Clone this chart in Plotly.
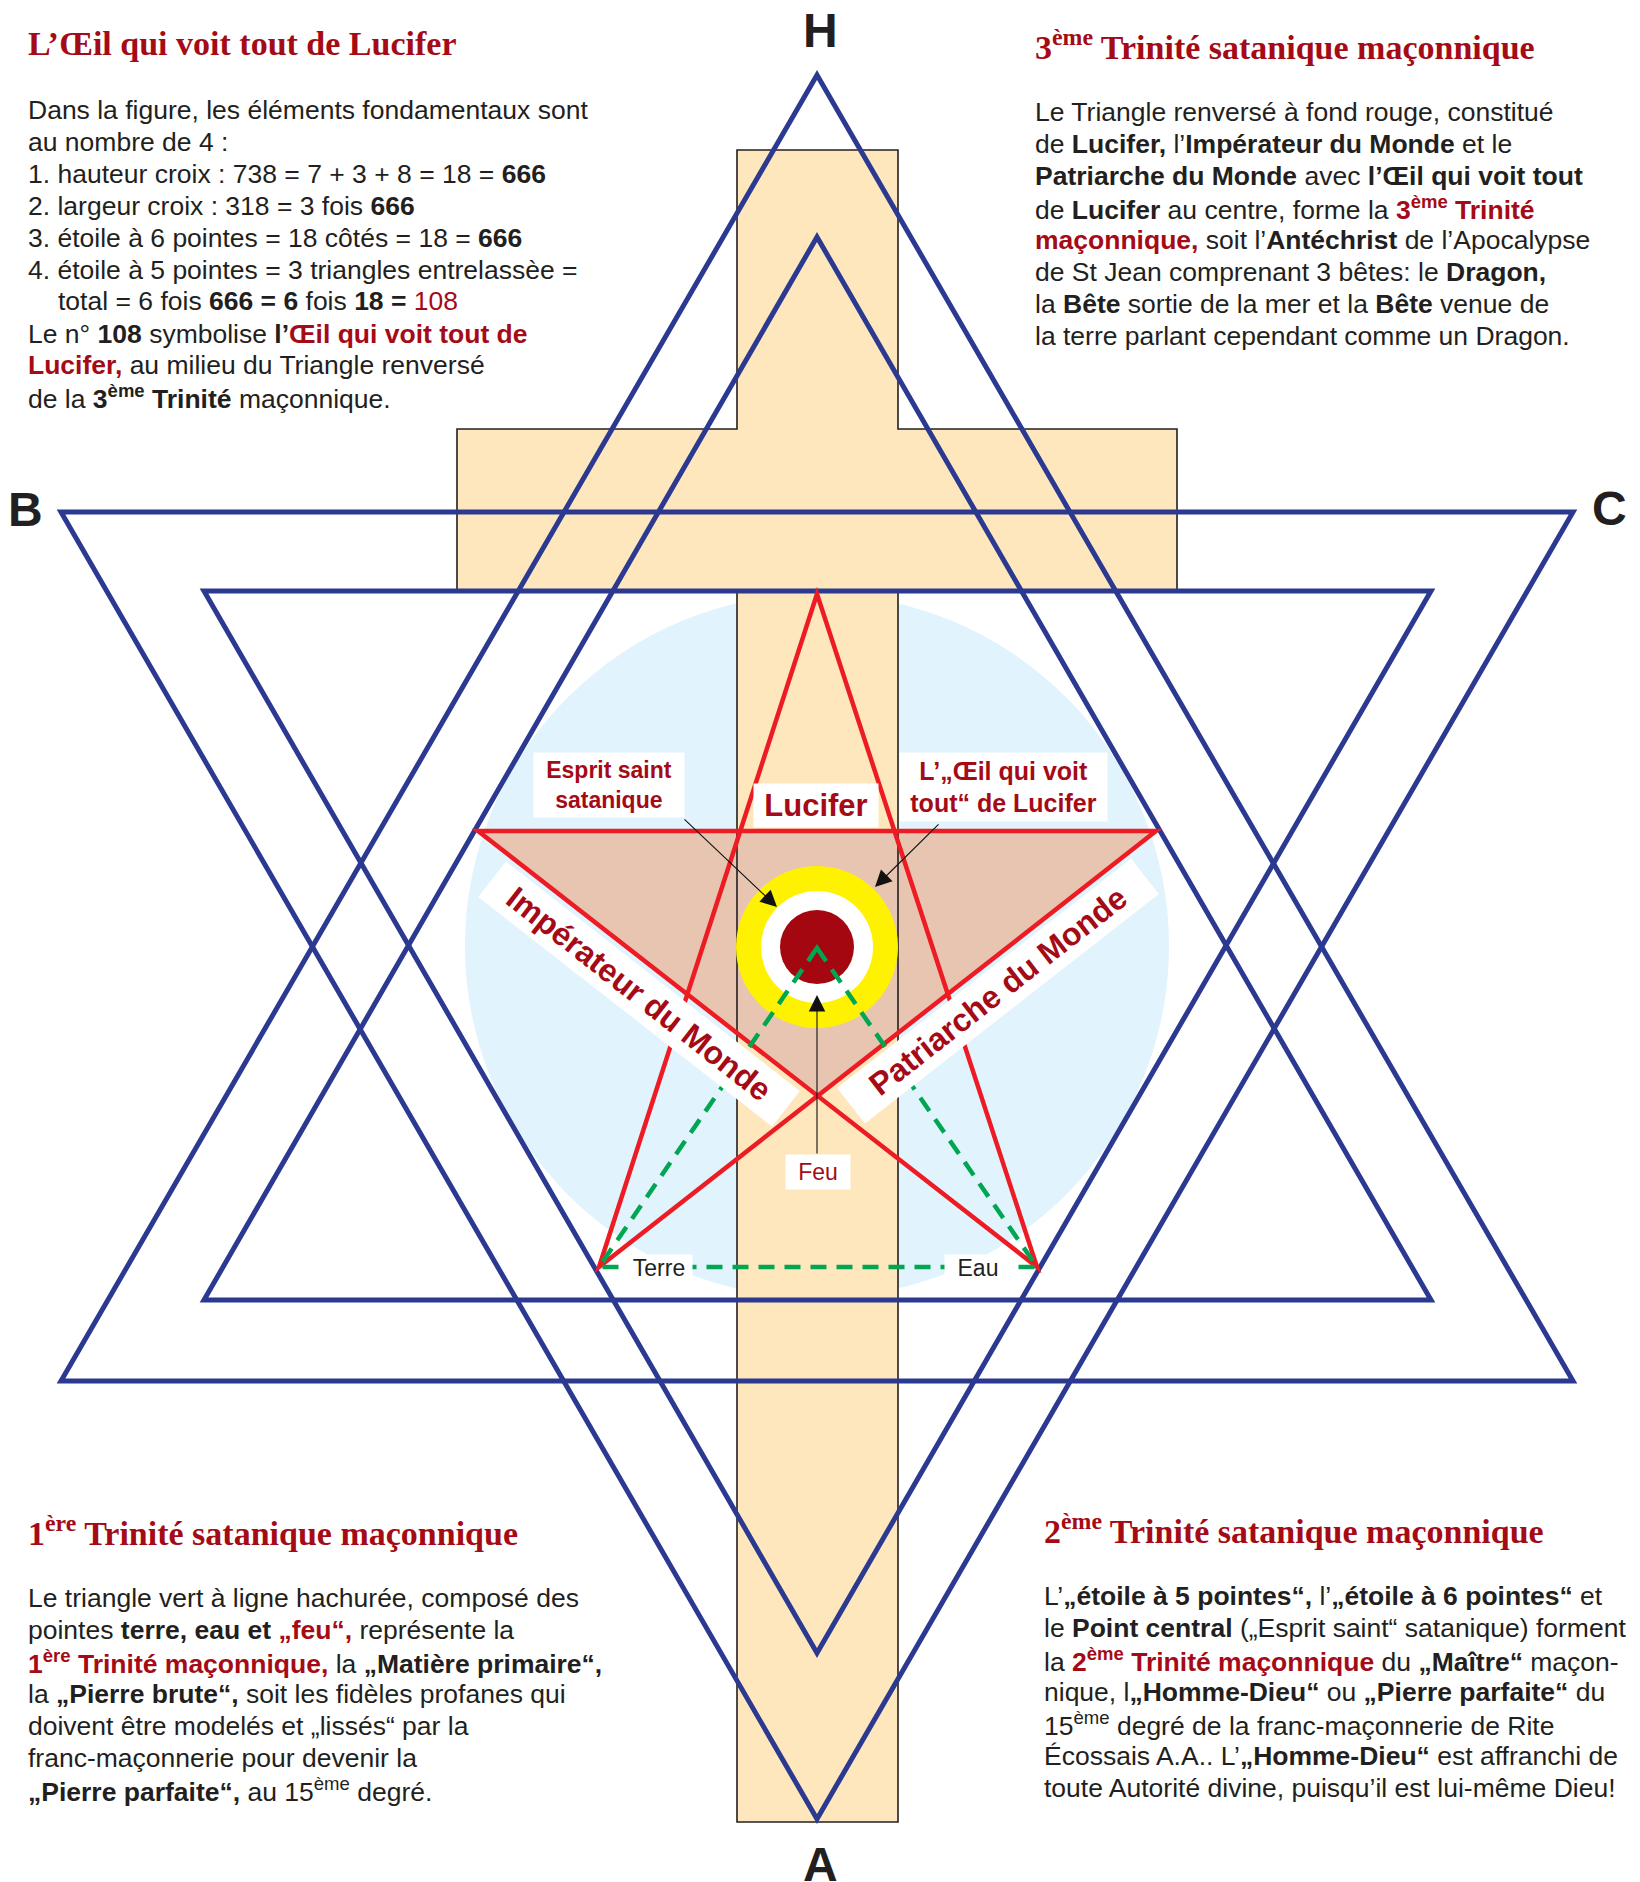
import plotly.graph_objects as go

W, H = 1640, 1882

# ---------------- geometry data (diagram units = pixels) ----------------
outer_up_x = [817, 1573, 61]
outer_up_y = [75, 1381, 1381]
outer_down_x = [61, 1573, 817]
outer_down_y = [512, 512, 1819]
inner_up_x = [817, 1431, 204]
inner_up_y = [237, 1300, 1300]
inner_down_x = [204, 1431, 817]
inner_down_y = [591, 591, 1653]

cross_x = [737, 898, 898, 1177, 1177, 898, 898, 737, 737, 457, 457, 737]
cross_y = [150, 150, 429, 429, 590, 590, 1822, 1822, 590, 590, 429, 429]

# pentagram in drawing order: top, bottom-left, right, left, bottom-right
penta_x = [817, 599, 1156, 478, 1037]
penta_y = [594, 1267, 831, 831, 1267]
red_tri_x = [478, 1156, 817]
red_tri_y = [831, 831, 1095]
green_tri_x = [817, 1037, 599]
green_tri_y = [948, 1267, 1267]

halo_cx, halo_cy, halo_r = 817, 946, 352
eye_cx, eye_cy = 817, 947
eye_r = [81, 56, 37]

# arrows: (tip x, tip y, tail x, tail y)
arrows = [(777, 907, 683, 818), (875, 887, 940, 823), (817, 995, 817, 1155)]

# ---------------- colours ----------------
NAVY = "#2B3990"
RED = "#ED1C24"
GREEN = "#00A651"
CREAM = "#FEE7BC"
SKY = "#E1F3FC"
PINK = "#E8C5B1"
YELLOW = "#FFF200"
EYE = "#A4070F"
TR = "#A50B16"
TXT = "#231F20"
SANS = "Liberation Sans, Arial, sans-serif"
SERIF = "Liberation Serif, Times New Roman, serif"

# ---------------- texts ----------------
tl_head = "L’Œil qui voit tout de Lucifer"
tl_lines = [
    "Dans la figure, les éléments fondamentaux sont",
    "au nombre de 4 :",
    "1. hauteur croix : 738 = 7 + 3 + 8 = 18 = <b>666</b>",
    "2. largeur croix : 318 = 3 fois <b>666</b>",
    "3. étoile à 6 pointes = 18 côtés = 18 = <b>666</b>",
    "4. étoile à 5 pointes = 3 triangles entrelassèe =",
    "total = 6 fois <b>666 = 6</b> fois <b>18 = </b>[r]108[/r]",
    "Le n° <b>108</b> symbolise <b>l’[r]Œil qui voit tout de[/r]</b>",
    "<b>[r]Lucifer,[/r]</b> au milieu du Triangle renversé",
    "de la <b>3<sup>ème</sup> Trinité</b> maçonnique.",
]
tl_y = [110, 142, 174, 206, 238, 270, 301, 334, 365, 397]
tl_x = [26, 26, 26, 26, 26, 26, 56, 26, 26, 26]

tr_head = "3<sup>ème</sup> Trinité satanique maçonnique"
tr_lines = [
    "Le Triangle renversé à fond rouge, constitué",
    "de <b>Lucifer,</b> l’<b>Impérateur du Monde</b> et le",
    "<b>Patriarche du Monde</b> avec <b>l’Œil qui voit tout</b>",
    "de <b>Lucifer</b> au centre, forme la <b>[r]3<sup>ème</sup> Trinité[/r]</b>",
    "<b>[r]maçonnique,[/r]</b> soit l’<b>Antéchrist</b> de l’Apocalypse",
    "de St Jean comprenant 3 bêtes: le <b>Dragon,</b>",
    "la <b>Bête</b> sortie de la mer et la <b>Bête</b> venue de",
    "la terre parlant cependant comme un Dragon.",
]
tr_y = [112, 144, 176, 208, 240, 272, 304, 336]

bl_head = "1<sup>ère</sup> Trinité satanique maçonnique"
bl_lines = [
    "Le triangle vert à ligne hachurée, composé des",
    "pointes <b>terre, eau et [r]„feu“,[/r]</b> représente la",
    "<b>[r]1<sup>ère</sup> Trinité maçonnique,[/r]</b> la <b>„Matière primaire“,</b>",
    "la <b>„Pierre brute“,</b> soit les fidèles profanes qui",
    "doivent être modelés et „lissés“ par la",
    "franc-maçonnerie pour devenir la",
    "<b>„Pierre parfaite“,</b> au 15<sup>ème</sup> degré.",
]
bl_y = [1598, 1630, 1662, 1694, 1726, 1758, 1790]

br_head = "2<sup>ème</sup> Trinité satanique maçonnique"
br_lines = [
    "L’<b>„étoile à 5 pointes“,</b> l’<b>„étoile à 6 pointes“</b> et",
    "le <b>Point central</b> („Esprit saint“ satanique) forment",
    "la <b>[r]2<sup>ème</sup> Trinité maçonnique[/r]</b> du <b>„Maître“</b> maçon-",
    "nique, l<b>„Homme-Dieu“</b> ou <b>„Pierre parfaite“</b> du",
    "15<sup>ème</sup> degré de la franc-maçonnerie de Rite",
    "Écossais A.A.. L’<b>„Homme-Dieu“</b> est affranchi de",
    "toute Autorité divine, puisqu’il est lui-même Dieu!",
]
br_y = [1596, 1628, 1660, 1692, 1724, 1756, 1788]

corner_labels = ["H", "B", "C", "A"]
corner_pos = [(820, 30), (25, 509), (1609, 508), (820, 1864)]


def rich(s):
    return s.replace("[r]", f"<span style='color:{TR}'>").replace("[/r]", "</span>")


def path(xs, ys, close=True):
    p = "M " + " L ".join(f"{x},{y}" for x, y in zip(xs, ys))
    return p + (" Z" if close else "")


def circ(cx, cy, r, color):
    return dict(type="circle", xref="x", yref="y", x0=cx - r, x1=cx + r,
                y0=cy - r, y1=cy + r, fillcolor=color, line=dict(width=0),
                layer="above")


shapes = []
shapes.append(circ(halo_cx, halo_cy, halo_r, SKY))
shapes.append(dict(type="path", xref="x", yref="y", path=path(cross_x, cross_y),
                   fillcolor=CREAM, line=dict(width=0), layer="above"))
shapes.append(dict(type="path", xref="x", yref="y", path=path(red_tri_x, red_tri_y),
                   fillcolor=PINK, line=dict(width=0), layer="above"))
shapes.append(dict(type="path", xref="x", yref="y", path=path(cross_x, cross_y),
                   fillcolor="rgba(0,0,0,0)", line=dict(color=TXT, width=1.6),
                   layer="above"))
for xs, ys in [(outer_up_x, outer_up_y), (outer_down_x, outer_down_y),
               (inner_up_x, inner_up_y), (inner_down_x, inner_down_y)]:
    shapes.append(dict(type="path", xref="x", yref="y", path=path(xs, ys),
                       fillcolor="rgba(0,0,0,0)", line=dict(color=NAVY, width=5),
                       layer="above"))
shapes.append(dict(type="path", xref="x", yref="y", path=path(penta_x, penta_y),
                   fillcolor="rgba(0,0,0,0)", line=dict(color=RED, width=4.5),
                   layer="above"))
for r, c in zip(eye_r, [YELLOW, "white", EYE]):
    shapes.append(circ(eye_cx, eye_cy, r, c))
shapes.append(dict(type="path", xref="x", yref="y", path=path(green_tri_x, green_tri_y),
                   fillcolor="rgba(0,0,0,0)",
                   line=dict(color=GREEN, width=4.5, dash="16px,10px"),
                   layer="above"))

ann = []


def txt(x, y, s, size, fam=SANS, color=TXT, xa="left", **kw):
    d = dict(x=x, y=y, xref="x", yref="y", text=s, showarrow=False,
             xanchor=xa, yanchor="middle", font=dict(family=fam, size=size, color=color))
    d.update(kw)
    ann.append(d)


BODY = 26.5
HEAD = 34
# heading blocks
txt(26, 43, f"<b>{tl_head}</b>", HEAD, SERIF, TR)
for x, y, s in zip(tl_x, tl_y, tl_lines):
    txt(x, y, rich(s), BODY)
txt(1033, 45, f"<b>{tr_head}</b>", HEAD, SERIF, TR)
for y, s in zip(tr_y, tr_lines):
    txt(1033, y, rich(s), BODY)
txt(26, 1531, f"<b>{bl_head}</b>", HEAD, SERIF, TR)
for y, s in zip(bl_y, bl_lines):
    txt(26, y, rich(s), BODY)
txt(1042, 1529, f"<b>{br_head}</b>", HEAD, SERIF, TR)
for y, s in zip(br_y, br_lines):
    txt(1042, y, rich(s), BODY)

for lab, (x, y) in zip(corner_labels, corner_pos):
    txt(x, y, f"<b>{lab}</b>", 48, SANS, TXT, xa="center")

# arrows
for tx, ty, ax, ay in arrows:
    ann.append(dict(x=tx, y=ty, xref="x", yref="y", ax=ax, ay=ay, axref="x", ayref="y",
                    text="", showarrow=True, arrowhead=2, arrowsize=3, arrowwidth=1.1,
                    arrowcolor="#111111", standoff=0, startstandoff=0))

# centre labels
txt(609, 785, "<b>Esprit saint<br>satanique</b>", 23, SANS, TR, xa="center",
    bgcolor="white", width=150, height=64, borderpad=0)
txt(816, 805, "<b>Lucifer</b>", 31, SANS, TR, xa="center",
    bgcolor="white", width=124, height=43, borderpad=0)
txt(1003, 787, "<b>L’„Œil qui voit<br>tout“ de Lucifer</b>", 25, SANS, TR, xa="center",
    bgcolor="white", width=207, height=68, borderpad=0)
txt(639, 994, "<b>Impérateur du Monde</b>", 32, SANS, TR, xa="center",
    bgcolor="white", width=372, height=44, borderpad=0, textangle=38)
txt(998, 991, "<b>Patriarche du Monde</b>", 32, SANS, TR, xa="center",
    bgcolor="white", width=372, height=44, borderpad=0, textangle=-38)
txt(818, 1172, "Feu", 23, SANS, TR, xa="center",
    bgcolor="white", width=64, height=34, borderpad=0)
txt(659, 1268, "Terre", 23, SANS, TXT, xa="center",
    bgcolor="white", width=66, height=26, borderpad=0)
txt(978, 1268, "Eau", 23, SANS, TXT, xa="center",
    bgcolor="white", width=66, height=26, borderpad=0)

fig = go.Figure()
fig.add_trace(go.Scatter(x=[0, W], y=[0, H], mode="markers",
                         marker=dict(opacity=0), hoverinfo="skip", showlegend=False))
fig.update_layout(
    width=W, height=H, margin=dict(l=0, r=0, t=0, b=0),
    paper_bgcolor="white", plot_bgcolor="white",
    xaxis=dict(range=[0, W], visible=False, fixedrange=True),
    yaxis=dict(range=[H, 0], visible=False, fixedrange=True),
    shapes=shapes, annotations=ann, showlegend=False,
)
fig.write_html("out.html", post_script="document.body.style.margin='0';",
               config={"displayModeBar": False})
